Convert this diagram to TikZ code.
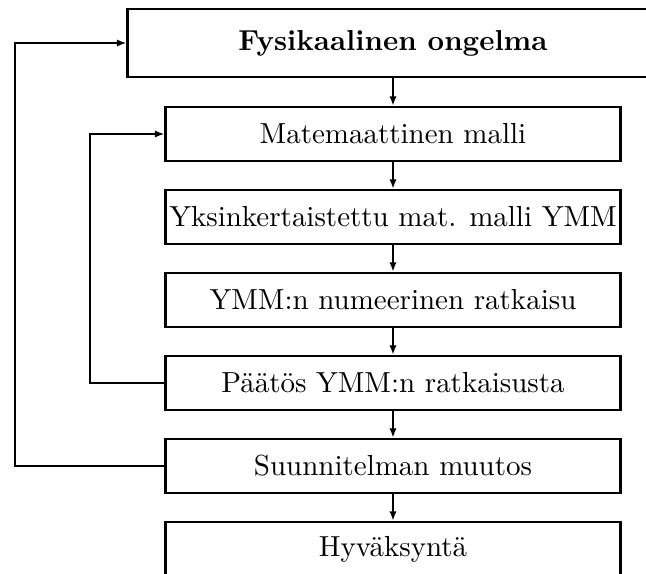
\documentclass[tikz,border=0pt]{standalone}
\usetikzlibrary{arrows.meta}
\begin{document}
\begin{tikzpicture}[x=0.357pt,y=-0.357pt,
  stepbox/.style={draw,line width=0.8pt,minimum width=162.4pt,minimum height=19.3pt,inner sep=0pt,font=\fontsize{10.35}{12}\selectfont},
  topbox/.style={draw,line width=0.8pt,minimum width=189.5pt,minimum height=24.3pt,inner sep=0pt,font=\fontsize{10.3}{12}\selectfont\bfseries},
  arr/.style={line width=0.75pt,-{Latex[length=3.4pt,width=2.6pt]}},
  ln/.style={line width=0.75pt}]
\useasboundingbox (0,0) rectangle (646,574);
\node[topbox] (t) at (393,43) {Fysikaalinen ongelma};
\node[stepbox] (m2) at (393,134) {Matemaattinen malli};
\node[stepbox] (m3) at (393,217) {Yksinkertaistettu mat. malli YMM};
\node[stepbox] (m4) at (393,300) {YMM:n numeerinen ratkaisu};
\node[stepbox] (m5) at (393,383) {Päätös YMM:n ratkaisusta};
\node[stepbox] (m6) at (393,466) {Suunnitelman muutos};
\node[stepbox] (m7) at (393,549) {Hyväksyntä};
\draw[arr] (t.south) -- (m2.north);
\draw[arr] (m2) -- (m3);
\draw[arr] (m3) -- (m4);
\draw[arr] (m4) -- (m5);
\draw[arr] (m5) -- (m6);
\draw[arr] (m6) -- (m7);
\coordinate (c1) at (90,383);
\coordinate (c2) at (15,466);
\draw[arr] (m5.west) -- (c1) |- (m2.west);
\draw[arr] (m6.west) -- (c2) |- (t.west);
\end{tikzpicture}
\end{document}
